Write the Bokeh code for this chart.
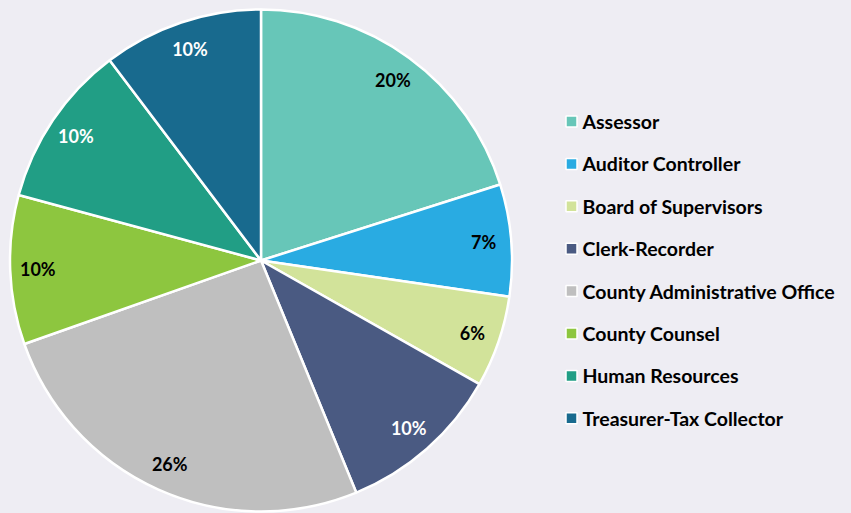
import math
from bokeh.plotting import figure
from bokeh.models import Range1d, ColumnDataSource, GlobalInlineStyleSheet
from bokeh.core.properties import value
from bokeh.embed import file_html
from bokeh.resources import INLINE

categories = ["Assessor", "Auditor Controller", "Board of Supervisors", "Clerk-Recorder",
              "County Administrative Office", "County Counsel", "Human Resources",
              "Treasurer-Tax Collector"]
shares = [20.1, 7.2, 5.9, 10.6, 25.8, 9.6, 10.5, 10.3]
labels = ["20%", "7%", "6%", "10%", "26%", "10%", "10%", "10%"]
colors = ["#67C6B8", "#29ABE2", "#D2E39A", "#4A5A82", "#BFBFBF", "#8DC63F", "#219E85", "#186A8E"]
label_colors = ["#000000", "#000000", "#000000", "#FFFFFF", "#000000", "#000000", "#FFFFFF", "#FFFFFF"]

W, H = 851, 513
BG = "#EEEDF3"
cx, cy, R = 260.5, H - 260, 251
FONT = "Lato"

total = sum(shares)
starts, ends, lx, ly = [], [], [], []
cum = 0.0
for s in shares:
    a0 = math.pi / 2 - 2 * math.pi * cum / total
    a1 = math.pi / 2 - 2 * math.pi * (cum + s) / total
    starts.append(a1)
    ends.append(a0)
    mid = (a0 + a1) / 2
    lx.append(cx + 0.89 * R * math.cos(mid))
    ly.append(cy + 0.89 * R * math.sin(mid))
    cum += s

src = ColumnDataSource(dict(cat=categories, start=starts, end=ends, color=colors,
                            lab=labels, lx=lx, ly=ly, lc=label_colors))

p = figure(width=W, height=H, output_backend="svg", toolbar_location=None,
           x_range=Range1d(0, W), y_range=Range1d(0, H), min_border=0)
p.axis.visible = False
p.grid.visible = False
p.outline_line_color = None
p.background_fill_color = BG
p.border_fill_color = BG
p.stylesheets = [GlobalInlineStyleSheet(css="body{background-color:%s;}" % BG)]

p.wedge(x=cx, y=cy, radius=R, start_angle="start", end_angle="end", source=src,
        fill_color="color", line_color="white", line_width=2.5)
p.text(x="lx", y="ly", text="lab", source=src, text_color="lc",
       text_font=value(FONT), text_font_style="bold", text_font_size="18px",
       text_align="center", text_baseline="middle")

# legend
n = len(categories)
leg_y = [H - (121 + 42.4 * i) for i in range(n)]
leg_src = ColumnDataSource(dict(y=leg_y, cat=categories, color=colors,
                                sx=[571] * n, tx=[582] * n))
p.scatter(x="sx", y="y", source=leg_src, marker="square", size=11,
          fill_color="color", line_color="white", line_width=1.5)
p.text(x="tx", y="y", text="cat", source=leg_src, text_color="#000000",
       text_font=value(FONT), text_font_style="bold", text_font_size="19.5px",
       text_align="left", text_baseline="middle")

open("out.html", "w").write(file_html(p, INLINE))
